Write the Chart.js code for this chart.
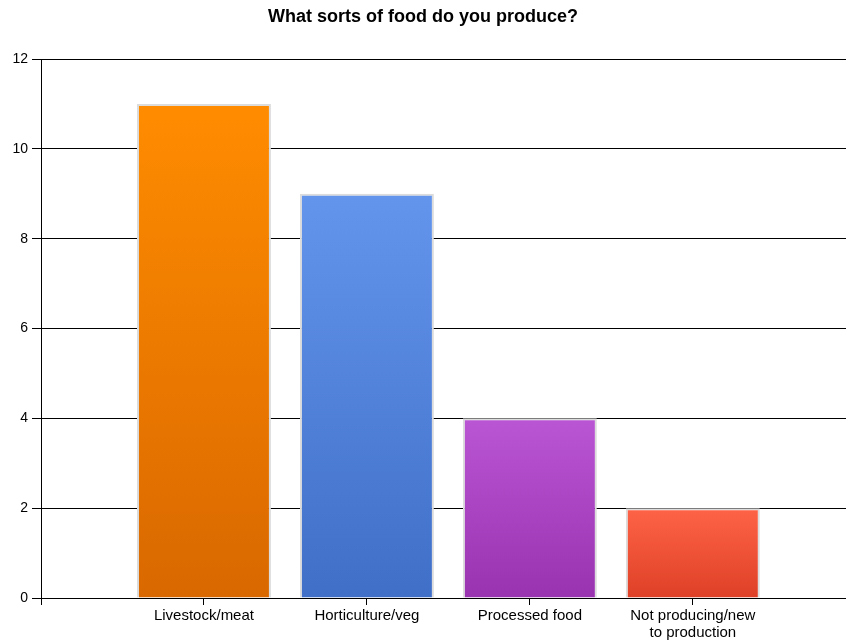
<!DOCTYPE html>
<html>
<head>
<meta charset="utf-8">
<title>What sorts of food do you produce?</title>
<script src="https://cdn.jsdelivr.net/npm/chart.js@4/dist/chart.umd.min.js"></script>
<style>
  html, body { margin: 0; padding: 0; background: #fff; }
  canvas { display: block; }
</style>
</head>
<body>
<canvas id="chart" width="846" height="643"></canvas>
<script>
// Survey answers: number of respondents per kind of food produced
const categories = ['Livestock/meat', 'Horticulture/veg', 'Processed food', 'Not producing/new\nto production'];
const values = [11, 9, 4, 2];
const yTicks = [0, 2, 4, 6, 8, 10, 12];

// Bar fills: light at the top of each bar, darker at its base
const topColors = ['#FF8C00', '#6495ED', '#BA55D3', '#FF6347'];
const bottomColors = ['#D96800', '#3F6FC6', '#9A33B0', '#DD4026'];

const FONT = "'Liberation Sans', Arial, sans-serif";

function barFill(ctx) {
  const i = ctx.dataIndex;
  const chart = ctx.chart;
  if (ctx.type !== 'data' || !chart.chartArea || !chart.scales.y) return topColors[i];
  const y = chart.scales.y;
  const top = y.getPixelForValue(values[i]);
  const base = y.getPixelForValue(0);
  const g = chart.ctx.createLinearGradient(0, top, 0, base);
  g.addColorStop(0, topColors[i]);
  g.addColorStop(1, bottomColors[i]);
  return g;
}

new Chart(document.getElementById('chart'), {
  type: 'bar',
  data: {
    datasets: [{
      data: categories.map((c, i) => ({ x: i + 1, y: values[i] })),
      backgroundColor: barFill,
      borderColor: '#DCDCDC',
      borderWidth: 2,
      borderSkipped: 'start',
      categoryPercentage: 1,
      barPercentage: 0.822
    }]
  },
  options: {
    responsive: false,
    animation: false,
    devicePixelRatio: 1,
    layout: { padding: 0 },
    plugins: {
      legend: { display: false },
      tooltip: { enabled: false },
      title: {
        display: true,
        text: 'What sorts of food do you produce?',
        color: '#000',
        font: { family: FONT, size: 18, weight: 'bold' },
        padding: { top: 6, bottom: 31.4 }
      }
    },
    scales: {
      x: {
        type: 'linear',
        offset: false,
        min: 0,
        max: 4.94,
        afterFit: s => { s.height = 45; },
        border: { display: true, color: '#000', width: 1 },
        grid: { offset: false, drawOnChartArea: false, drawTicks: true, tickLength: 7, color: '#000' },
        ticks: {
          stepSize: 1,
          includeBounds: false,
          autoSkip: false,
          maxRotation: 0,
          minRotation: 0,
          padding: 2,
          color: '#000',
          font: { family: FONT, size: 15, lineHeight: 1.15 },
          callback: v => (Number.isInteger(v) && v >= 1 && v <= categories.length)
            ? categories[v - 1].split('\n') : ''
        }
      },
      y: {
        min: yTicks[0],
        max: yTicks[yTicks.length - 1],
        afterFit: s => { s.width = 41; },
        afterBuildTicks: s => { s.ticks = yTicks.map(v => ({ value: v })); },
        border: { display: true, color: '#000', width: 1 },
        grid: { color: '#000', lineWidth: 1, tickLength: 9, drawTicks: true },
        ticks: {
          padding: 4,
          color: '#000',
          font: { family: FONT, size: 14 }
        }
      }
    }
  }
});
</script>
</body>
</html>
